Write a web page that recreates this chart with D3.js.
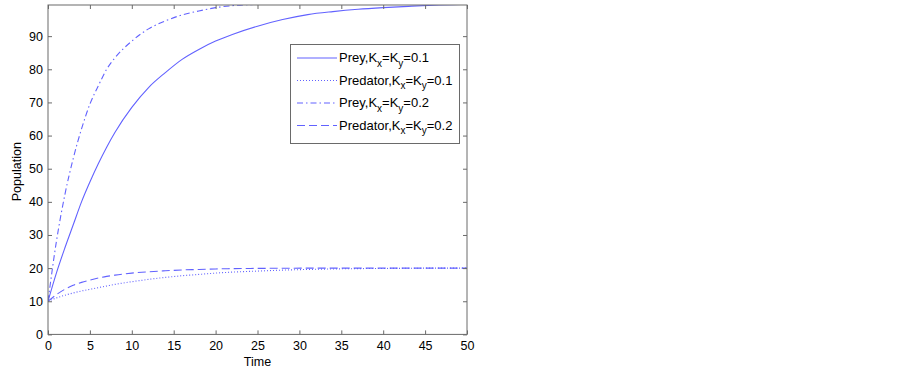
<!DOCTYPE html>
<html>
<head>
<meta charset="utf-8">
<script src="https://cdn.jsdelivr.net/npm/d3@7"></script>
<style>
  body { margin: 0; background: #fff; }
  text { font-family: "Liberation Sans", Arial, sans-serif; }
</style>
</head>
<body>
<svg id="chart" width="903" height="370"></svg>
<script>
const times = [0, 1, 2, 3, 4, 5, 6, 7, 8, 10, 12, 14, 16, 18, 20, 22, 25, 28, 31, 34, 37, 40, 43, 46, 50];

const prey01 = [10, 18.5, 26, 33, 40, 46, 51.5, 56.5, 61, 68.5, 74.5, 79, 83, 86, 88.5, 90.5, 93, 95, 96.5, 97.4, 98.1, 98.6, 99, 99.35, 99.6];
const predator01 = [10, 11, 11.8, 12.5, 13.1, 13.6, 14.1, 14.6, 15.1, 15.9, 16.6, 17.2, 17.7, 18.1, 18.5, 18.8, 19.1, 19.4, 19.6, 19.75, 19.85, 19.9, 19.95, 20, 20];
const prey02 = [10, 28, 42, 53, 62, 69.5, 75, 80, 83.5, 88.5, 92.2, 94.6, 96.4, 97.6, 98.6, 99.2, 99.6, 99.8, 99.9, 99.95, 100, 100, 100, 100, 100];
const predator02 = [10, 12, 13.6, 14.8, 15.7, 16.4, 17, 17.5, 17.9, 18.5, 18.9, 19.2, 19.45, 19.6, 19.75, 19.85, 19.92, 19.96, 20, 20, 20, 20, 20, 20, 20];

const xTicks = [0, 5, 10, 15, 20, 25, 30, 35, 40, 45, 50];
const yTicks = [0, 10, 20, 30, 40, 50, 60, 70, 80, 90];

const seriesNames = ["Prey", "Predator", "Prey", "Predator"];
const seriesK = ["0.1", "0.1", "0.2", "0.2"];
const seriesValues = [prey01, predator01, prey02, predator02];
const dashes = [null, "1,2", "6,3,1.5,3", "8,4"];

const plotLeft = 48, plotRight = 467, plotTop = 5, plotBottom = 334.4;
const lineColor = "#6262ff";
const axisColor = "#6a6a6a";

const svg = d3.select("#chart");

const x = d3.scaleLinear().domain([0, 50]).range([plotLeft, plotRight]);
const y = d3.scaleLinear().domain([0, 99.4]).range([plotBottom, plotTop]);

svg.append("defs").append("clipPath").attr("id", "plot-clip")
  .append("rect")
  .attr("x", plotLeft).attr("y", plotTop)
  .attr("width", plotRight - plotLeft).attr("height", plotBottom - plotTop);

// lines
const line = d3.line()
  .x((d) => x(d[0]))
  .y((d) => y(d[1]))
  .curve(d3.curveMonotoneX);

seriesValues.forEach((vals, i) => {
  svg.append("path")
    .attr("clip-path", "url(#plot-clip)")
    .attr("fill", "none")
    .attr("stroke", lineColor)
    .attr("stroke-width", 1.1)
    .attr("stroke-dasharray", dashes[i])
    .attr("d", line(times.map((t, j) => [t, vals[j]])));
});

// axes, ticks pointing inward
const styleAxis = (g) => {
  g.select(".domain").remove();
  g.selectAll(".tick line").attr("stroke", axisColor);
  g.selectAll(".tick text")
    .attr("fill", "#000")
    .style("font-size", "12.5px")
    .style("font-family", "'Liberation Sans', Arial, sans-serif");
};

svg.append("g")
  .attr("transform", `translate(0,${plotBottom})`)
  .call(d3.axisBottom(x).tickValues(xTicks).tickSizeInner(-4).tickSizeOuter(0).tickPadding(7))
  .call(styleAxis);

svg.append("g")
  .attr("transform", `translate(0,${plotTop})`)
  .call(d3.axisTop(x).tickValues(xTicks).tickSizeInner(-4).tickSizeOuter(0).tickFormat(""))
  .call(styleAxis);

svg.append("g")
  .attr("transform", `translate(${plotLeft},0)`)
  .call(d3.axisLeft(y).tickValues(yTicks).tickSizeInner(-4).tickSizeOuter(0).tickPadding(5))
  .call(styleAxis);

svg.append("g")
  .attr("transform", `translate(${plotRight},0)`)
  .call(d3.axisRight(y).tickValues(yTicks).tickSizeInner(-4).tickSizeOuter(0).tickFormat(""))
  .call(styleAxis);

svg.append("rect")
  .attr("x", plotLeft).attr("y", plotTop)
  .attr("width", plotRight - plotLeft).attr("height", plotBottom - plotTop)
  .attr("fill", "none")
  .attr("stroke", axisColor)
  .attr("stroke-width", 1);

// axis titles
svg.append("text")
  .attr("x", (plotLeft + plotRight) / 2)
  .attr("y", 366)
  .attr("text-anchor", "middle")
  .style("font-size", "12.5px")
  .text("Time");

svg.append("text")
  .attr("transform", `translate(21,${(plotTop + plotBottom) / 2 + 2}) rotate(-90)`)
  .attr("text-anchor", "middle")
  .style("font-size", "12.5px")
  .text("Population");

// legend
const legend = svg.append("g");
legend.append("rect")
  .attr("x", 290.5).attr("y", 44.5)
  .attr("width", 169).attr("height", 99)
  .attr("fill", "#fff")
  .attr("stroke", axisColor);

const rowY = [58, 80.5, 103, 125.5];
seriesNames.forEach((name, i) => {
  legend.append("line")
    .attr("x1", 297).attr("x2", 337)
    .attr("y1", rowY[i]).attr("y2", rowY[i])
    .attr("stroke", lineColor)
    .attr("stroke-width", 1.1)
    .attr("stroke-dasharray", dashes[i]);
  const t = legend.append("text")
    .attr("x", 339)
    .attr("y", rowY[i] + 4)
    .style("font-size", "13px")
    .attr("fill", "#000");
  t.append("tspan").text(`${name},K`);
  t.append("tspan").attr("dy", 4.5).style("font-size", "10px").text("x");
  t.append("tspan").attr("dy", -4.5).text("=K");
  t.append("tspan").attr("dy", 4.5).style("font-size", "10px").text("y");
  t.append("tspan").attr("dy", -4.5).text(`=${seriesK[i]}`);
});
</script>
</body>
</html>
